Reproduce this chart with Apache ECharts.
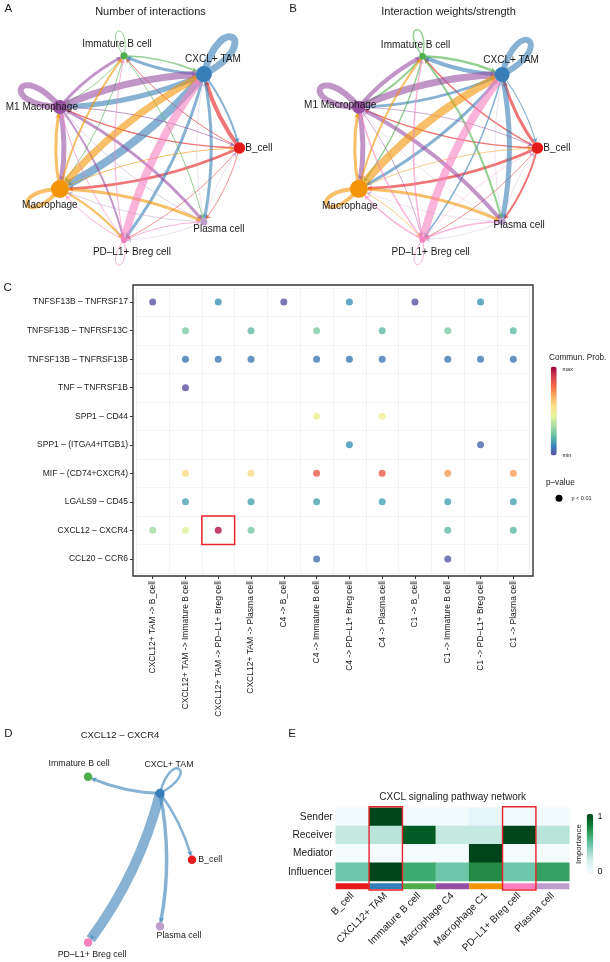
<!DOCTYPE html>
<html>
<head>
<meta charset="utf-8">
<script src="https://cdn.jsdelivr.net/npm/echarts@6/dist/echarts.min.js"></script>
<style>html,body{margin:0;padding:0;background:#fff}#chart{width:610px;height:962px}</style>
</head>
<body>
<div id="chart"></div>
<script>
// ---------------- DATA ----------------
const cellNames = ['B_cell', 'CXCL+ TAM', 'Immature B cell', 'M1 Macrophage', 'Macrophage', 'PD–L1+ Breg cell', 'Plasma cell'];
// rows = sender, cols = receiver (same order as cellNames)
const interactionCount = [
  [0,   4,   1,   1.5, 2.5, 0.8, 0.8],
  [2,   7,   3,   5,   8,   3,   3],
  [0,   1.5, 1,   1,   1,   0,   1],
  [1,   7,   3,   6,   5,   2,   3],
  [1,   7,   2,   3,   4,   2,   3],
  [0,   8,   1,   1,   1,   1,   1],
  [0.5, 0.5, 0,   0.8, 0.8, 0.5, 0]
];
const interactionWeight = [
  [0,   3,   1.5, 1.5, 3,   0.8, 2],
  [1.2, 6,   4,   2.5, 3,   1.5, 5],
  [0,   2.5, 1.5, 2,   1.5, 0,   2],
  [0.8, 7,   4,   6,   5,   0.8, 4],
  [0.8, 8,   2,   3,   4,   0.8, 3],
  [0.5, 8,   1.5, 1.5, 1.5, 1,   1.5],
  [0.5, 0.5, 0,   0.5, 0.5, 0.5, 0]
];
const cxclSender = 1;
const cxclWeightFromTam = [2.5, 2.5, 3, 0, 0, 10, 3.5];

const lrPairs = ['TNFSF13B – TNFRSF17', 'TNFSF13B – TNFRSF13C', 'TNFSF13B – TNFRSF13B', 'TNF – TNFRSF1B', 'SPP1 – CD44',
  'SPP1 – (ITGA4+ITGB1)', 'MIF – (CD74+CXCR4)', 'LGALS9 – CD45', 'CXCL12 – CXCR4', 'CCL20 – CCR6'];
const sourceTargets = ['CXCL12+ TAM -> B_cell', 'CXCL12+ TAM -> Immature B cell', 'CXCL12+ TAM -> PD–L1+ Breg cell', 'CXCL12+ TAM -> Plasma cell',
  'C4 -> B_cell', 'C4 -> Immature B cell', 'C4 -> PD–L1+ Breg cell', 'C4 -> Plasma cell',
  'C1 -> B_cell', 'C1 -> Immature B cell', 'C1 -> PD–L1+ Breg cell', 'C1 -> Plasma cell'];
const _ = null;
// communication probability (relative, 0 = min, 1 = max); rows = lrPairs, cols = sourceTargets
const commProb = [
  [0.01, _,    0.135, _,    0.01, _,    0.135, _,    0.01, _,    0.135, _],
  [_,    0.26, _,     0.21, _,    0.26, _,     0.21, _,    0.26, _,     0.21],
  [_,    0.08, 0.08,  0.08, _,    0.08, 0.08,  0.08, _,    0.08, 0.08,  0.08],
  [_,    0.0,  _,     _,    _,    _,    _,     _,    _,    _,    _,     _],
  [_,    _,    _,     _,    _,    0.48, _,     0.48, _,    _,    _,     _],
  [_,    _,    _,     _,    _,    _,    0.13,  _,    _,    _,    0.04,  _],
  [_,    0.57, _,     0.57, _,    0.82, _,     0.82, _,    0.70, _,     0.70],
  [_,    0.16, _,     0.16, _,    0.16, _,     0.16, _,    0.16, _,     0.16],
  [0.32, 0.43, 0.97,  0.25, _,    _,    _,     _,    _,    0.21, _,     0.21],
  [_,    _,    _,     _,    _,    0.06, _,     _,    _,    0.02, _,     _]
];
const highlightCell = [[2, 8]];

const roleGroups = ['B_cell', 'CXCL12+ TAM', 'Immature B cell', 'Macrophage C4', 'Macrophage C1', 'PD–L1+ Breg cell', 'Plasma cell'];
const roleNames = ['Sender', 'Receiver', 'Mediator', 'Influencer'];
const roleScores = [
  [0.04, 1.00, 0.04, 0.04, 0.12, 0.04, 0.04],
  [0.27, 0.30, 0.93, 0.27, 0.27, 1.00, 0.30],
  [0.02, 0.02, 0.02, 0.02, 1.00, 0.02, 0.02],
  [0.48, 1.00, 0.64, 0.48, 0.75, 0.48, 0.68]
];
const highlightGroups = [1, 5];

// ---------------- STYLE ----------------
const FONT = '"Liberation Sans", Arial, Helvetica, sans-serif';
const TXT = '#1a1a1a';
const cellColors = ['#E41A1C', '#377EB8', '#4DAF4A', '#984EA3', '#F29403', '#F781BF', '#BC9DCC'];
const spectral = ['#5E4FA2', '#3288BD', '#66C2A5', '#ABDDA4', '#E6F598', '#FEE08B', '#FDAE61', '#F46D43', '#D53E4F', '#9E0142'];
const buGn = ['#F7FCFD', '#E5F5F9', '#CCECE6', '#99D8C9', '#66C2A4', '#41AE76', '#238B45', '#006D2C', '#00441B'];
const HL = '#E8242A';

const nodeSizeA = [11.5, 16, 7, 14, 18, 6, 7];
const nodeSizeB = [11.5, 15, 6.5, 13, 18, 6, 7];
const nodeSizeD = [8.5, 9, 8.5, 0, 0, 8.5, 8.5];
const labelA = [
  {position: 'right', distance: 0},
  {position: 'top', distance: 2, offset: [9, 0]},
  {position: 'top', distance: 3, offset: [-7, 0]},
  {position: 'inside', offset: [-18, 0]},
  {position: 'bottom', distance: 2, offset: [-10, 0]},
  {position: 'bottom', distance: 4, offset: [8, 0]},
  {position: 'inside', offset: [15, 7]}
];
const labelB = [
  {position: 'right', distance: 0},
  {position: 'top', distance: 2, offset: [9, 0]},
  {position: 'top', distance: 3, offset: [-7, 0]},
  {position: 'inside', offset: [-18.6, -2]},
  {position: 'bottom', distance: 3, offset: [-9, 0]},
  {position: 'bottom', distance: 5, offset: [8, 0]},
  {position: 'inside', offset: [17, 4]}
];
const labelD = [
  {position: 'right', distance: 2},
  {position: 'top', distance: 20, offset: [9, 0]},
  {position: 'top', distance: 5, offset: [-9, 0]},
  {show: false},
  {show: false},
  {position: 'bottom', distance: 3, offset: [4, 0]},
  {position: 'bottom', distance: 1, offset: [19, 0]}
];

// layout of panel C
const C_BOX = {left: 133, top: 285, width: 400, height: 291};
const C_EXP = 0.6;
const cColW = C_BOX.width / (sourceTargets.length - 1 + 2 * C_EXP);
const cRowH = C_BOX.height / (lrPairs.length - 1 + 2 * C_EXP);
const cPadX = (C_EXP - 0.5) * cColW, cPadY = (C_EXP - 0.5) * cRowH;
// layout of panel E
const E_GRID = {left: 335.7, top: 807.7, width: 233.6, height: 73.3};
const E_ANNOT = {top: 883.3, height: 6};

// ---------------- BUILDERS ----------------
function loopRender(params, api) {
  const i = api.value(1), w = api.value(2);
  const p = api.coord([1, i]);
  const c = api.coord([0, 0]);
  let ux = p[0] - c[0], uy = p[1] - c[1];
  const len = Math.hypot(ux, uy) || 1; ux /= len; uy /= len;
  const vx = -uy, vy = ux;
  const R = 22 + 3.5 * w, L = R / 0.75, k = 0.45;
  return {
    type: 'bezierCurve',
    shape: {x1: p[0], y1: p[1], x2: p[0], y2: p[1],
      cpx1: p[0] + L * (ux + k * vx), cpy1: p[1] + L * (uy + k * vy),
      cpx2: p[0] + L * (ux - k * vx), cpy2: p[1] + L * (uy - k * vy)},
    style: {stroke: cellColors[i], lineWidth: w, fill: 'none', opacity: 0.6}
  };
}
function loopSeries(polarIndex, matrix) {
  const data = [];
  matrix.forEach((row, i) => { if (row[i] > 0) data.push([1, i, row[i]]); });
  return {type: 'custom', coordinateSystem: 'polar', polarIndex, z: 1, silent: true, renderItem: loopRender, data};
}
function graphSeries(polarIndex, matrix, sizes, labels, fontSize, curveness) {
  const nodes = cellNames.map((n, i) => ({
    name: n, value: [1, i], symbolSize: sizes[i],
    itemStyle: {color: cellColors[i], opacity: sizes[i] > 0 ? 1 : 0},
    label: Object.assign({show: true}, labels[i])
  }));
  const edges = [];
  matrix.forEach((row, i) => row.forEach((w, j) => {
    if (i !== j && w > 0) edges.push({source: cellNames[i], target: cellNames[j],
      lineStyle: {width: w, color: cellColors[i]}});
  }));
  return {
    type: 'graph', coordinateSystem: 'polar', polarIndex, layout: 'none', z: 2, silent: true,
    data: nodes, edges,
    edgeSymbol: ['none', 'arrow'], edgeSymbolSize: [0, 4.5],
    lineStyle: {opacity: 0.6, curveness},
    label: {fontSize, fontFamily: FONT, color: TXT},
    emphasis: {disabled: true}
  };
}

const scatterData = [];
commProb.forEach((row, r) => row.forEach((v, c) => { if (v !== null) scatterData.push([c, r, v]); }));
const heatData = [];
roleScores.forEach((row, r) => row.forEach((v, c) => heatData.push([c, r, v])));
const cxclMatrix = cellNames.map((_n, i) => i === cxclSender ? cxclWeightFromTam : cellNames.map(() => 0));

const series = [
  loopSeries(0, interactionCount),
  graphSeries(0, interactionCount, nodeSizeA, labelA, 10, 0.1),
  loopSeries(1, interactionWeight),
  graphSeries(1, interactionWeight, nodeSizeB, labelB, 10, 0.1),
  loopSeries(2, cxclMatrix),
  graphSeries(2, cxclMatrix, nodeSizeD, labelD, 8.8, 0.1),
  {type: 'scatter', xAxisIndex: 1, yAxisIndex: 1, symbolSize: 7, data: scatterData, z: 3, silent: true},
  {type: 'custom', xAxisIndex: 1, yAxisIndex: 1, z: 4, silent: true, data: highlightCell,
    renderItem(params, api) {
      const c = api.coord([api.value(0), api.value(1)]);
      const s = api.size([1, 1]);
      return {type: 'rect', shape: {x: c[0] - s[0] / 2, y: c[1] - s[1] / 2, width: s[0], height: s[1]},
        style: {stroke: HL, fill: 'none', lineWidth: 1.5}};
    }},
  {type: 'heatmap', xAxisIndex: 2, yAxisIndex: 2, data: heatData, silent: true, itemStyle: {borderWidth: 0}},
  {type: 'custom', xAxisIndex: 2, yAxisIndex: 2, z: 5, silent: true, data: highlightGroups.map(g => [g, 0]),
    renderItem(params, api) {
      const c = api.coord([api.value(0), 0]);
      const s = api.size([1, 1]);
      const y = c[1] - s[1] / 2 - 1;
      return {type: 'rect', shape: {x: c[0] - s[0] / 2, y, width: s[0], height: E_ANNOT.top + E_ANNOT.height + 0.7 - y},
        style: {stroke: HL, fill: 'none', lineWidth: 1.4}};
    }},
  {type: 'bar', xAxisIndex: 3, yAxisIndex: 3, barWidth: '100%', silent: true,
    data: roleGroups.map((g, i) => ({value: 1, itemStyle: {color: cellColors[i]}}))}
];

function txt(x, y, s, size, extra) {
  return Object.assign({type: 'text', x, y, silent: true,
    style: Object.assign({text: s, fontSize: size, fontFamily: FONT, fill: TXT, align: 'center', verticalAlign: 'middle'}, (extra && extra.style) || {})},
    extra && extra.el || {});
}

const option = {
  animation: false,
  backgroundColor: '#fff',
  polar: [
    {center: [145, 148], radius: 94.5},
    {center: [443.5, 148], radius: 94},
    {center: [107, 859.7], radius: 85}
  ],
  angleAxis: [0, 1, 2].map(i => ({polarIndex: i, type: 'value', min: 0, max: cellNames.length, startAngle: 0, clockwise: false, show: false})),
  radiusAxis: [0, 1, 2].map(i => ({polarIndex: i, type: 'value', min: 0, max: 1, show: false})),
  grid: [
    {left: C_BOX.left, top: C_BOX.top, width: C_BOX.width, height: C_BOX.height, show: true, borderColor: '#333', borderWidth: 1.4, backgroundColor: 'transparent', z: 5},
    {left: C_BOX.left + cPadX, top: C_BOX.top + cPadY, width: C_BOX.width - 2 * cPadX, height: C_BOX.height - 2 * cPadY},
    {left: E_GRID.left, top: E_GRID.top, width: E_GRID.width, height: E_GRID.height},
    {left: E_GRID.left, top: E_ANNOT.top, width: E_GRID.width, height: E_ANNOT.height}
  ],
  xAxis: [
    {gridIndex: 0, type: 'value', show: false},
    {gridIndex: 1, type: 'category', data: sourceTargets, offset: cPadY,
      axisLine: {show: false}, axisTick: {show: true, alignWithLabel: true, length: 3, lineStyle: {color: '#333'}},
      axisLabel: {rotate: 90, interval: 0, fontSize: 8.5, fontFamily: FONT, color: TXT, margin: 5},
      splitLine: {show: true, lineStyle: {color: '#EBEBEB', width: 0.6}}},
    {gridIndex: 2, type: 'category', data: roleGroups, axisLine: {show: false}, axisTick: {show: false}, axisLabel: {show: false}},
    {gridIndex: 3, type: 'category', data: roleGroups, axisLine: {show: false}, axisTick: {show: false},
      axisLabel: {rotate: 45, interval: 0, fontSize: 10, fontFamily: FONT, color: TXT, margin: 5}}
  ],
  yAxis: [
    {gridIndex: 0, type: 'value', show: false},
    {gridIndex: 1, type: 'category', data: lrPairs, inverse: true, offset: cPadX,
      axisLine: {show: false}, axisTick: {show: true, alignWithLabel: true, length: 3, lineStyle: {color: '#333'}},
      axisLabel: {fontSize: 8.5, fontFamily: FONT, color: TXT, margin: 5},
      splitLine: {show: true, lineStyle: {color: '#EBEBEB', width: 0.6}}},
    {gridIndex: 2, type: 'category', data: roleNames, inverse: true, axisLine: {show: false}, axisTick: {show: false},
      axisLabel: {fontSize: 10.2, fontFamily: FONT, color: TXT, margin: 3}},
    {gridIndex: 3, type: 'value', min: 0, max: 1, show: false}
  ],
  visualMap: [
    {type: 'continuous', seriesIndex: 6, dimension: 2, min: 0, max: 1, inRange: {color: spectral},
      calculable: false, hoverLink: false, orient: 'vertical', left: 550.7, top: 366.5, itemWidth: 6, itemHeight: 89, padding: 0},
    {type: 'continuous', seriesIndex: 8, dimension: 2, min: 0, max: 1, inRange: {color: buGn},
      calculable: false, hoverLink: false, orient: 'vertical', left: 586.7, top: 814, itemWidth: 6.6, itemHeight: 60, padding: 0}
  ],
  graphic: [
    txt(8.3, 8.7, 'A', 11.5),
    txt(150.5, 12.3, 'Number of interactions', 11),
    txt(293, 8.7, 'B', 11.5),
    txt(448.5, 12.3, 'Interaction weights/strength', 11),
    txt(7.7, 288.3, 'C', 11.5),
    txt(8.5, 733.5, 'D', 11.5),
    txt(120, 735.7, 'CXCL12 – CXCR4', 9.5),
    txt(292, 733.5, 'E', 11.5),
    txt(452.7, 797, 'CXCL signaling pathway network', 10),
    txt(549, 358, 'Commun. Prob.', 8.2, {style: {align: 'left'}}),
    txt(562.5, 369, 'max', 5.5, {style: {align: 'left'}}),
    txt(562.5, 455, 'min', 5.5, {style: {align: 'left'}}),
    txt(546, 482.7, 'p–value', 8.2, {style: {align: 'left'}}),
    {type: 'circle', shape: {cx: 559, cy: 498.3, r: 3.5}, style: {fill: '#000'}, silent: true},
    txt(571.5, 498.3, 'p < 0.01', 5.5, {style: {align: 'left'}}),
    txt(579, 844, 'Importance', 8, {el: {rotation: Math.PI / 2}}),
    txt(597.5, 817, '1', 9, {style: {align: 'left'}}),
    txt(597.5, 872, '0', 9, {style: {align: 'left'}})
  ],
  series
};

const chart = echarts.init(document.getElementById('chart'), null, {renderer: 'canvas'});
chart.setOption(option);
</script>
</body>
</html>
